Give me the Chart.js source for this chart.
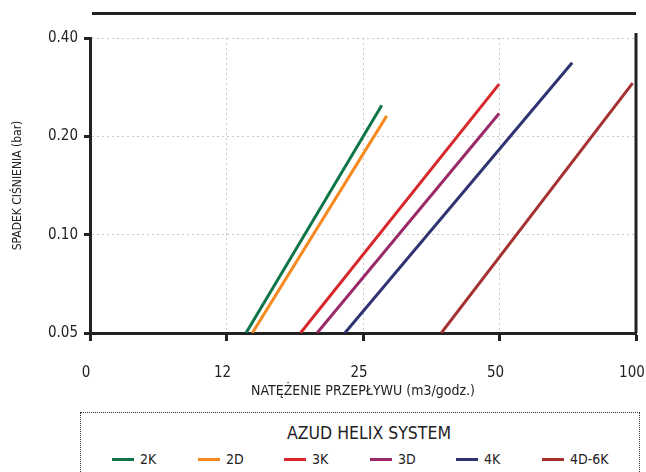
<!DOCTYPE html>
<html>
<head>
<meta charset="utf-8">
<script src="https://cdn.jsdelivr.net/npm/chart.js@4.4.0/dist/chart.umd.min.js"></script>
<style>
  body { margin: 0; background: #fff; width: 646px; height: 472px; overflow: hidden; position: relative;
         font-family: 'Liberation Sans Narrow', 'DejaVu Sans Condensed', 'Liberation Sans', sans-serif; color: #222; }
  #topline { position: absolute; left: 92px; top: 12px; width: 544px; height: 0; border-top: 3px solid #222; }
  #wrap { position: absolute; left: 0; top: 0; width: 646px; height: 400px; }
  #legend { position: absolute; left: 80px; top: 412px; width: 560px; height: 80px; border: 1px dotted #333; box-sizing: border-box; }
  #legend .title { position: absolute; left: 0; width: 576px; top: 10px; text-align: center; font-size: 17.5px; }
  #legend .items { position: absolute; left: 31px; top: 38px; display: flex; }
  #legend .item { width: 86px; display: flex; align-items: center; font-size: 14px; }
  #legend .swatch { width: 22px; height: 3px; margin-right: 6px; }
</style>
</head>
<body>
<div id="topline"></div>
<div id="wrap"><canvas id="myChart"></canvas></div>
<div id="legend"><div class="title">AZUD HELIX SYSTEM</div><div class="items" id="items"></div></div>
<script>
// flow values in m3/godz., pressure drop in bar (start and end of each line)
let seriesNames = ['2K', '2D', '3K', '3D', '4K', '4D-6K'];
let seriesColors = ['#0e7548', '#f5891f', '#d7272c', '#9b2968', '#2f3371', '#a53131'];
let flowStart = [13.8, 14.25, 18.2, 19.8, 22.8, 37.2];
let flowEnd = [27.5, 28.2, 49.9, 49.9, 72.3, 98.3];
let dropStart = [0.05, 0.05, 0.05, 0.05, 0.05, 0.05];
let dropEnd = [0.249, 0.231, 0.289, 0.235, 0.336, 0.291];

let xTickValues = [6.25, 12.5, 25, 50, 100];
let xTickLabels = ['0', '12', '25', '50', '100'];
let yTickValues = [0.05, 0.1, 0.2, 0.4];
let yTickLabels = ['0.05', '0.10', '0.20', '0.40'];

let fontFamily = "'Liberation Sans Narrow', 'DejaVu Sans Condensed', 'Liberation Sans', sans-serif";

let datasets = seriesNames.map(function (name, i) {
    return {
        label: name,
        data: [{ x: flowStart[i], y: dropStart[i] }, { x: flowEnd[i], y: dropEnd[i] }],
        borderColor: seriesColors[i],
        backgroundColor: seriesColors[i],
        borderWidth: 3,
        pointRadius: 0,
        fill: false
    };
});

// right frame line of the plot
let frame = {
    id: 'frame',
    afterDraw: function (chart) {
        let c = chart.ctx, a = chart.chartArea;
        c.save();
        c.strokeStyle = '#222';
        c.lineWidth = 3;
        c.beginPath();
        c.moveTo(a.right, a.top - 5);
        c.lineTo(a.right, a.bottom);
        c.stroke();
        c.restore();
    }
};

let ctx = document.getElementById('myChart').getContext('2d');
let chart = new Chart(ctx, {
    type: 'line',
    data: { datasets: datasets },
    plugins: [frame],
    options: {
        responsive: true,
        maintainAspectRatio: false,
        animation: false,
        layout: { padding: { top: 38, right: 10, left: 0, bottom: 0 } },
        plugins: { legend: { display: false }, tooltip: { enabled: false } },
        scales: {
            x: {
                type: 'logarithmic',
                min: 6.25,
                max: 100,
                afterBuildTicks: function (s) { s.ticks = xTickValues.map(v => ({ value: v })); },
                afterFit: function (s) { s.height = 67; s.paddingLeft = 0; s.paddingRight = 0; },
                ticks: {
                    autoSkip: false, maxRotation: 0, padding: 23, labelOffset: -4,
                    color: '#222', font: { family: fontFamily, size: 15 },
                    callback: function (v, i) { return xTickLabels[i]; }
                },
                grid: { color: '#c8c8c8', lineWidth: 1, tickLength: 8, tickColor: '#222', tickWidth: 3, tickBorderDash: [1, 0] },
                border: { color: '#222', width: 3, dash: [2, 3] },
                title: {
                    display: true, text: 'NATĘŻENIE PRZEPŁYWU (m3/godz.)', color: '#222',
                    font: { family: fontFamily, size: 14 }, padding: { top: 0, bottom: 0 }
                }
            },
            y: {
                type: 'logarithmic',
                min: 0.05,
                max: 0.4,
                afterBuildTicks: function (s) { s.ticks = yTickValues.map(v => ({ value: v })); },
                afterFit: function (s) { s.width = 90; s.paddingTop = 0; s.paddingBottom = 0; },
                ticks: {
                    autoSkip: false, padding: 6,
                    color: '#222', font: { family: fontFamily, size: 15 },
                    callback: function (v, i) { return yTickLabels[i]; }
                },
                grid: { color: '#c8c8c8', lineWidth: 1, tickLength: 6, tickColor: '#222', tickWidth: 3, tickBorderDash: [1, 0] },
                border: { color: '#222', width: 3, dash: [2, 3] },
                title: {
                    display: true, text: 'SPADEK CIŚNIENIA (bar)', color: '#222',
                    font: { family: fontFamily, size: 12 }, padding: { top: 11, bottom: 0 }
                }
            }
        }
    }
});

// legend built from the same series arrays
let items = document.getElementById('items');
seriesNames.forEach(function (name, i) {
    let d = document.createElement('div');
    d.className = 'item';
    d.innerHTML = '<span class="swatch" style="background:' + seriesColors[i] + '"></span>' + name;
    items.appendChild(d);
});
</script>
</body>
</html>
